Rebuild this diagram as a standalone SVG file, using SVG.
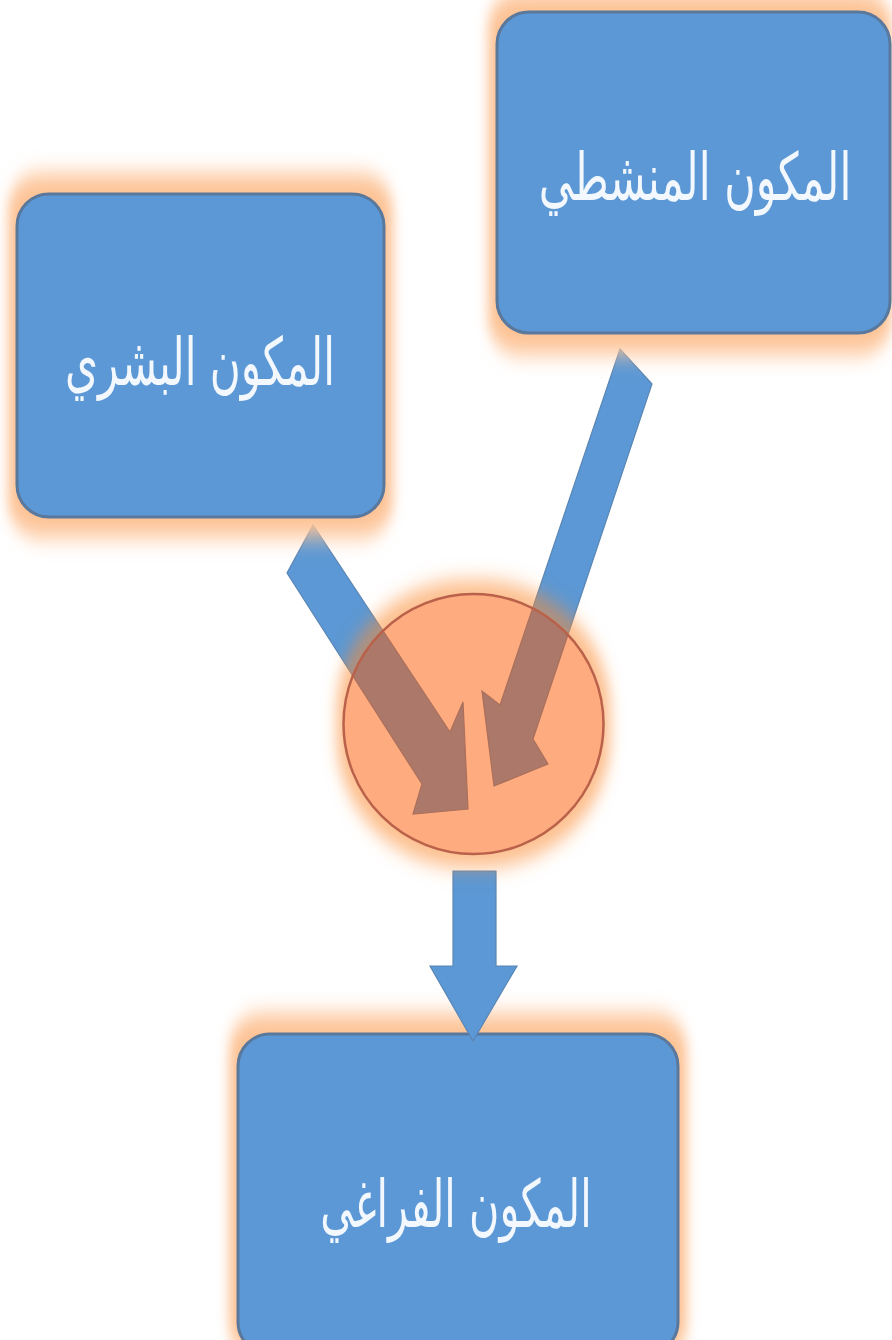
<svg xmlns="http://www.w3.org/2000/svg" width="892" height="1340" viewBox="0 0 892 1340">
<defs>
<filter id="glow" x="-20%" y="-25%" width="140%" height="150%"><feGaussianBlur stdDeviation="6 11"/></filter>
<filter id="ring" x="-30%" y="-30%" width="160%" height="160%">
<feMorphology in="SourceAlpha" operator="dilate" radius="7 14" result="d"/>
<feGaussianBlur in="d" stdDeviation="7 10" result="b"/>
<feFlood flood-color="#fb8a30" flood-opacity="0.55"/>
<feComposite in2="b" operator="in" result="c"/>
<feComposite in="c" in2="SourceAlpha" operator="out"/>
</filter>
<filter id="soft" x="-5%" y="-20%" width="110%" height="140%"><feGaussianBlur stdDeviation="0.5"/></filter>
</defs>
<style>
.box{fill:#5b98d5;stroke:#5a789c;stroke-width:3}
.halo{fill:#fdc294;filter:url(#glow)}
.lbl{font-family:"DejaVu Sans",sans-serif;font-size:66px;fill:#f2f8fe;text-anchor:middle;direction:rtl;filter:url(#soft)}
.arrow{fill:#5b98d5;stroke:#5a86b4;stroke-width:1.2}
</style>
<rect width="892" height="1340" fill="#fff"/>
<g id="node-space">
<rect class="halo" x="229" y="1014" width="458" height="346" rx="34"/>
<rect class="box" x="238" y="1034" width="440" height="320" rx="32"/>
<text class="lbl" transform="translate(456,1227) scale(0.627,1)">المكون الفراغي</text>
</g>
<g id="connectors">
<polygon class="arrow" points="313,525 287,573 422,784 413,814 468,809 463,702 450,732"/>
<polygon class="arrow" points="620,349 652,384 533,739 548,764 494,786 482,691 500,705"/>
<polygon class="arrow" points="453,871 496,871 496,966 517,966 473,1041 430,966 453,966"/>
</g>
<g id="node-circle">
<circle cx="473.5" cy="724" r="130" filter="url(#ring)"/>
<circle cx="473.5" cy="724" r="130" fill="#fb5700" fill-opacity="0.5"/>
<circle cx="473.5" cy="724" r="130" fill="none" stroke="#b9614a" stroke-width="2.5"/>
</g>
<g id="node-activity">
<rect class="halo" x="488" y="-8" width="404" height="362" rx="34"/>
<rect class="box" x="497" y="12" width="393" height="321" rx="32"/>
<text class="lbl" transform="translate(695,200) scale(0.65,1)">المكون المنشطي</text>
</g>
<g id="node-human">
<rect class="halo" x="8" y="174" width="385" height="363" rx="34"/>
<rect class="box" x="17" y="194" width="367" height="323" rx="32"/>
<text class="lbl" transform="translate(200,385) scale(0.64,1)">المكون البشري</text>
</g>
</svg>
